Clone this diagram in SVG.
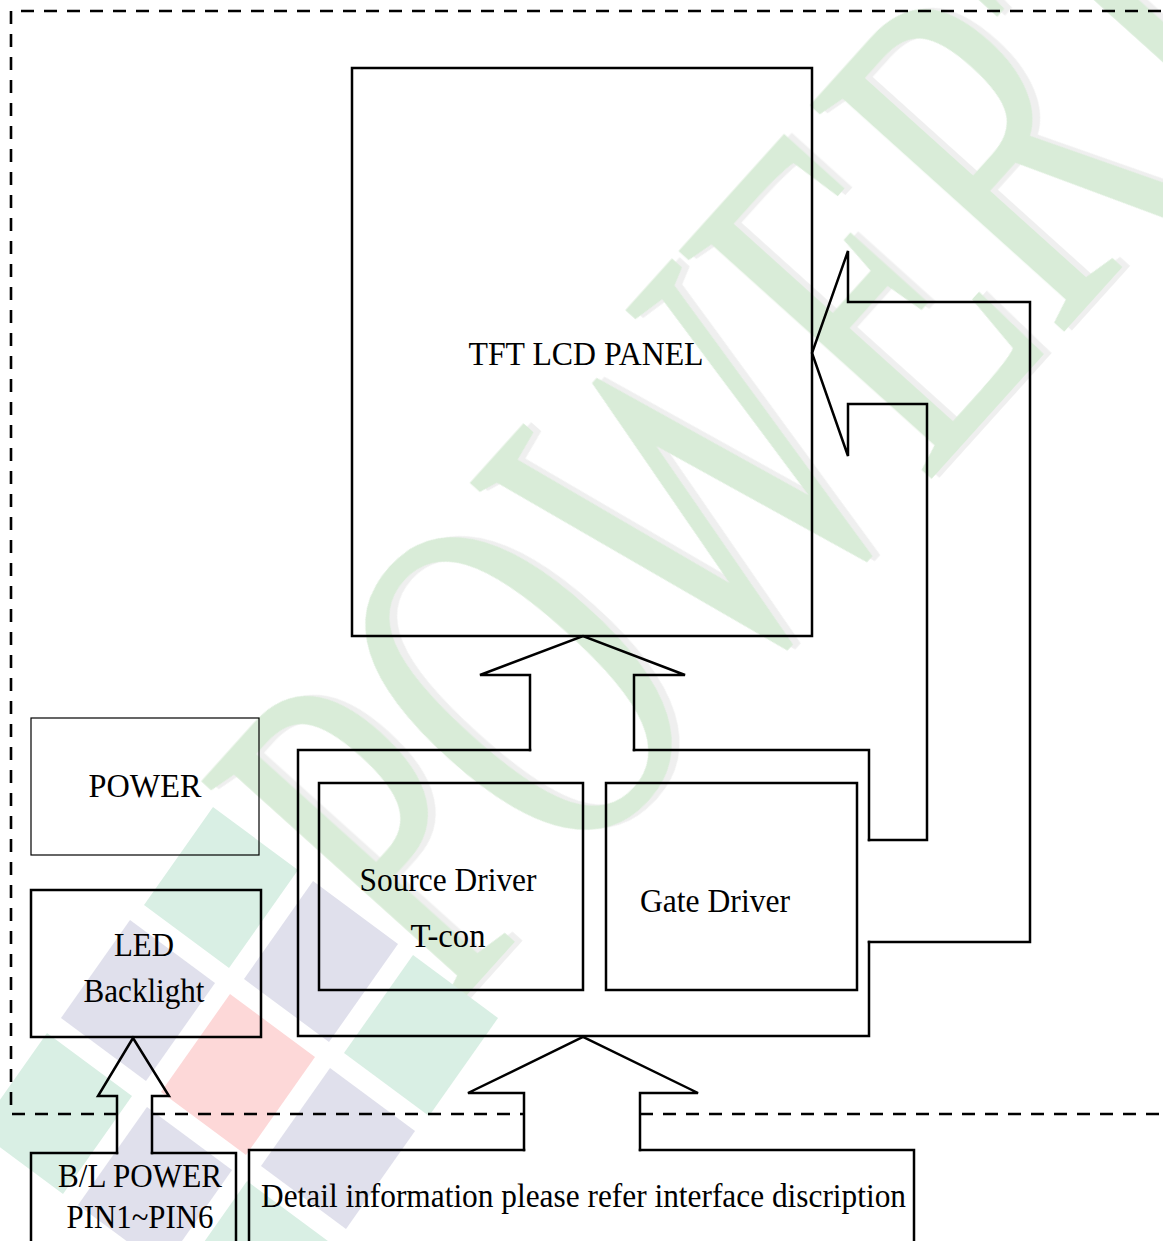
<svg xmlns="http://www.w3.org/2000/svg" width="1163" height="1241" viewBox="0 0 1163 1241">
<style>
.ln{fill:none;stroke:#000;stroke-width:2.5;stroke-linejoin:miter;stroke-linecap:square}
.thin{fill:none;stroke:#000;stroke-width:1.2}
.dash{fill:none;stroke:#000;stroke-width:2.6;stroke-dasharray:13 10}
.t{font-family:"Liberation Serif","Times New Roman",serif;font-size:34px;fill:#000}
.wm{font-family:"Liberation Serif","Times New Roman",serif;font-size:520px;fill:#d9ecd8}
.sg{fill:#d9efe4}.sl{fill:#e0e0ec}.sp{fill:#fdd8d8}
</style>
<defs>
<filter id="sh" x="-5%" y="-20%" width="110%" height="140%">
<feOffset in="SourceAlpha" dx="6" dy="5" result="o"/>
<feFlood flood-color="#efefef"/>
<feComposite in2="o" operator="in" result="s"/>
<feMerge><feMergeNode in="s"/><feMergeNode in="SourceGraphic"/></feMerge>
</filter>
</defs>
<rect width="1163" height="1241" fill="#fff"/>
<g id="watermark">
<text class="wm" filter="url(#sh)" transform="translate(448,1016) rotate(-48)" textLength="1586" lengthAdjust="spacingAndGlyphs">POWERTIP</text>
<polygon class="sg" points="47,1033 132,1096 63,1194 -22,1131"/>
<polygon class="sl" points="147,1107 232,1170 163,1268 78,1205"/>
<polygon class="sg" points="247,1181 332,1244 263,1342 178,1279"/>
<polygon class="sl" points="130,920 215,983 146,1081 61,1018"/>
<polygon class="sp" points="230,994 315,1057 246,1155 161,1092"/>
<polygon class="sl" points="330,1068 415,1131 346,1229 261,1166"/>
<polygon class="sg" points="213,807 298,870 229,968 144,905"/>
<polygon class="sl" points="313,881 398,944 329,1042 244,979"/>
<polygon class="sg" points="413,955 498,1018 429,1116 344,1053"/>
</g>
<g id="boundary">
<path class="dash" d="M117,1114 H11 V11 H1170"/>
<path class="dash" d="M152,1114 H524"/>
<path class="dash" d="M640,1114 H1170"/>
</g>
<g id="tft-lcd-panel">
<rect class="ln" x="352" y="68" width="460" height="568"/>
<text class="t" x="586" y="365" font-size="36" text-anchor="middle" textLength="235" lengthAdjust="spacingAndGlyphs">TFT LCD PANEL</text>
</g>
<g id="driver-board">
<path class="ln" d="M530,750 H298 V1036 H869 V942 M869,840 V750 H634"/>
</g>
<g id="source-driver">
<rect class="ln" x="319" y="783" width="264" height="207"/>
<text class="t" x="448" y="891" text-anchor="middle" textLength="177" lengthAdjust="spacingAndGlyphs">Source Driver</text>
<text class="t" x="448" y="947" text-anchor="middle" textLength="75" lengthAdjust="spacingAndGlyphs">T-con</text>
</g>
<g id="gate-driver">
<rect class="ln" x="606" y="783" width="251" height="207"/>
<text class="t" x="715" y="912" text-anchor="middle" textLength="150" lengthAdjust="spacingAndGlyphs">Gate Driver</text>
</g>
<g id="power">
<rect class="thin" x="31" y="718" width="228" height="137"/>
<text class="t" x="145" y="797" font-size="33" text-anchor="middle" textLength="113" lengthAdjust="spacingAndGlyphs">POWER</text>
</g>
<g id="led-backlight">
<rect class="ln" x="31" y="890" width="230" height="147"/>
<text class="t" x="144" y="956" text-anchor="middle" textLength="60" lengthAdjust="spacingAndGlyphs">LED</text>
<text class="t" x="144" y="1002" text-anchor="middle" textLength="121" lengthAdjust="spacingAndGlyphs">Backlight</text>
</g>
<g id="bl-power">
<path class="ln" d="M117,1153 H31 V1245 M152,1153 H236 V1245"/>
<text class="t" x="140" y="1187" text-anchor="middle" textLength="164" lengthAdjust="spacingAndGlyphs">B/L POWER</text>
<text class="t" x="140" y="1228" text-anchor="middle" textLength="147" lengthAdjust="spacingAndGlyphs">PIN1~PIN6</text>
</g>
<g id="detail-info">
<path class="ln" d="M524,1150 H249 V1245 M640,1150 H914 V1245"/>
<text class="t" x="261" y="1207" textLength="645" lengthAdjust="spacingAndGlyphs">Detail information please refer interface discription</text>
</g>
<g id="connectors">
<polyline class="ln" points="530,750 530,675 480,675 583,636 685,675 634,675 634,750"/>
<polyline class="ln" points="869,840 927,840 927,404 848,404 848,456 812,353 848,251 848,302 1030,302 1030,942 869,942"/>
<polyline class="ln" points="524,1150 524,1093 468,1093 583,1037 698,1093 640,1093 640,1150"/>
<polyline class="ln" points="117,1153 117,1096 98,1096 133,1038 169,1096 152,1096 152,1153"/>
</g>
</svg>
